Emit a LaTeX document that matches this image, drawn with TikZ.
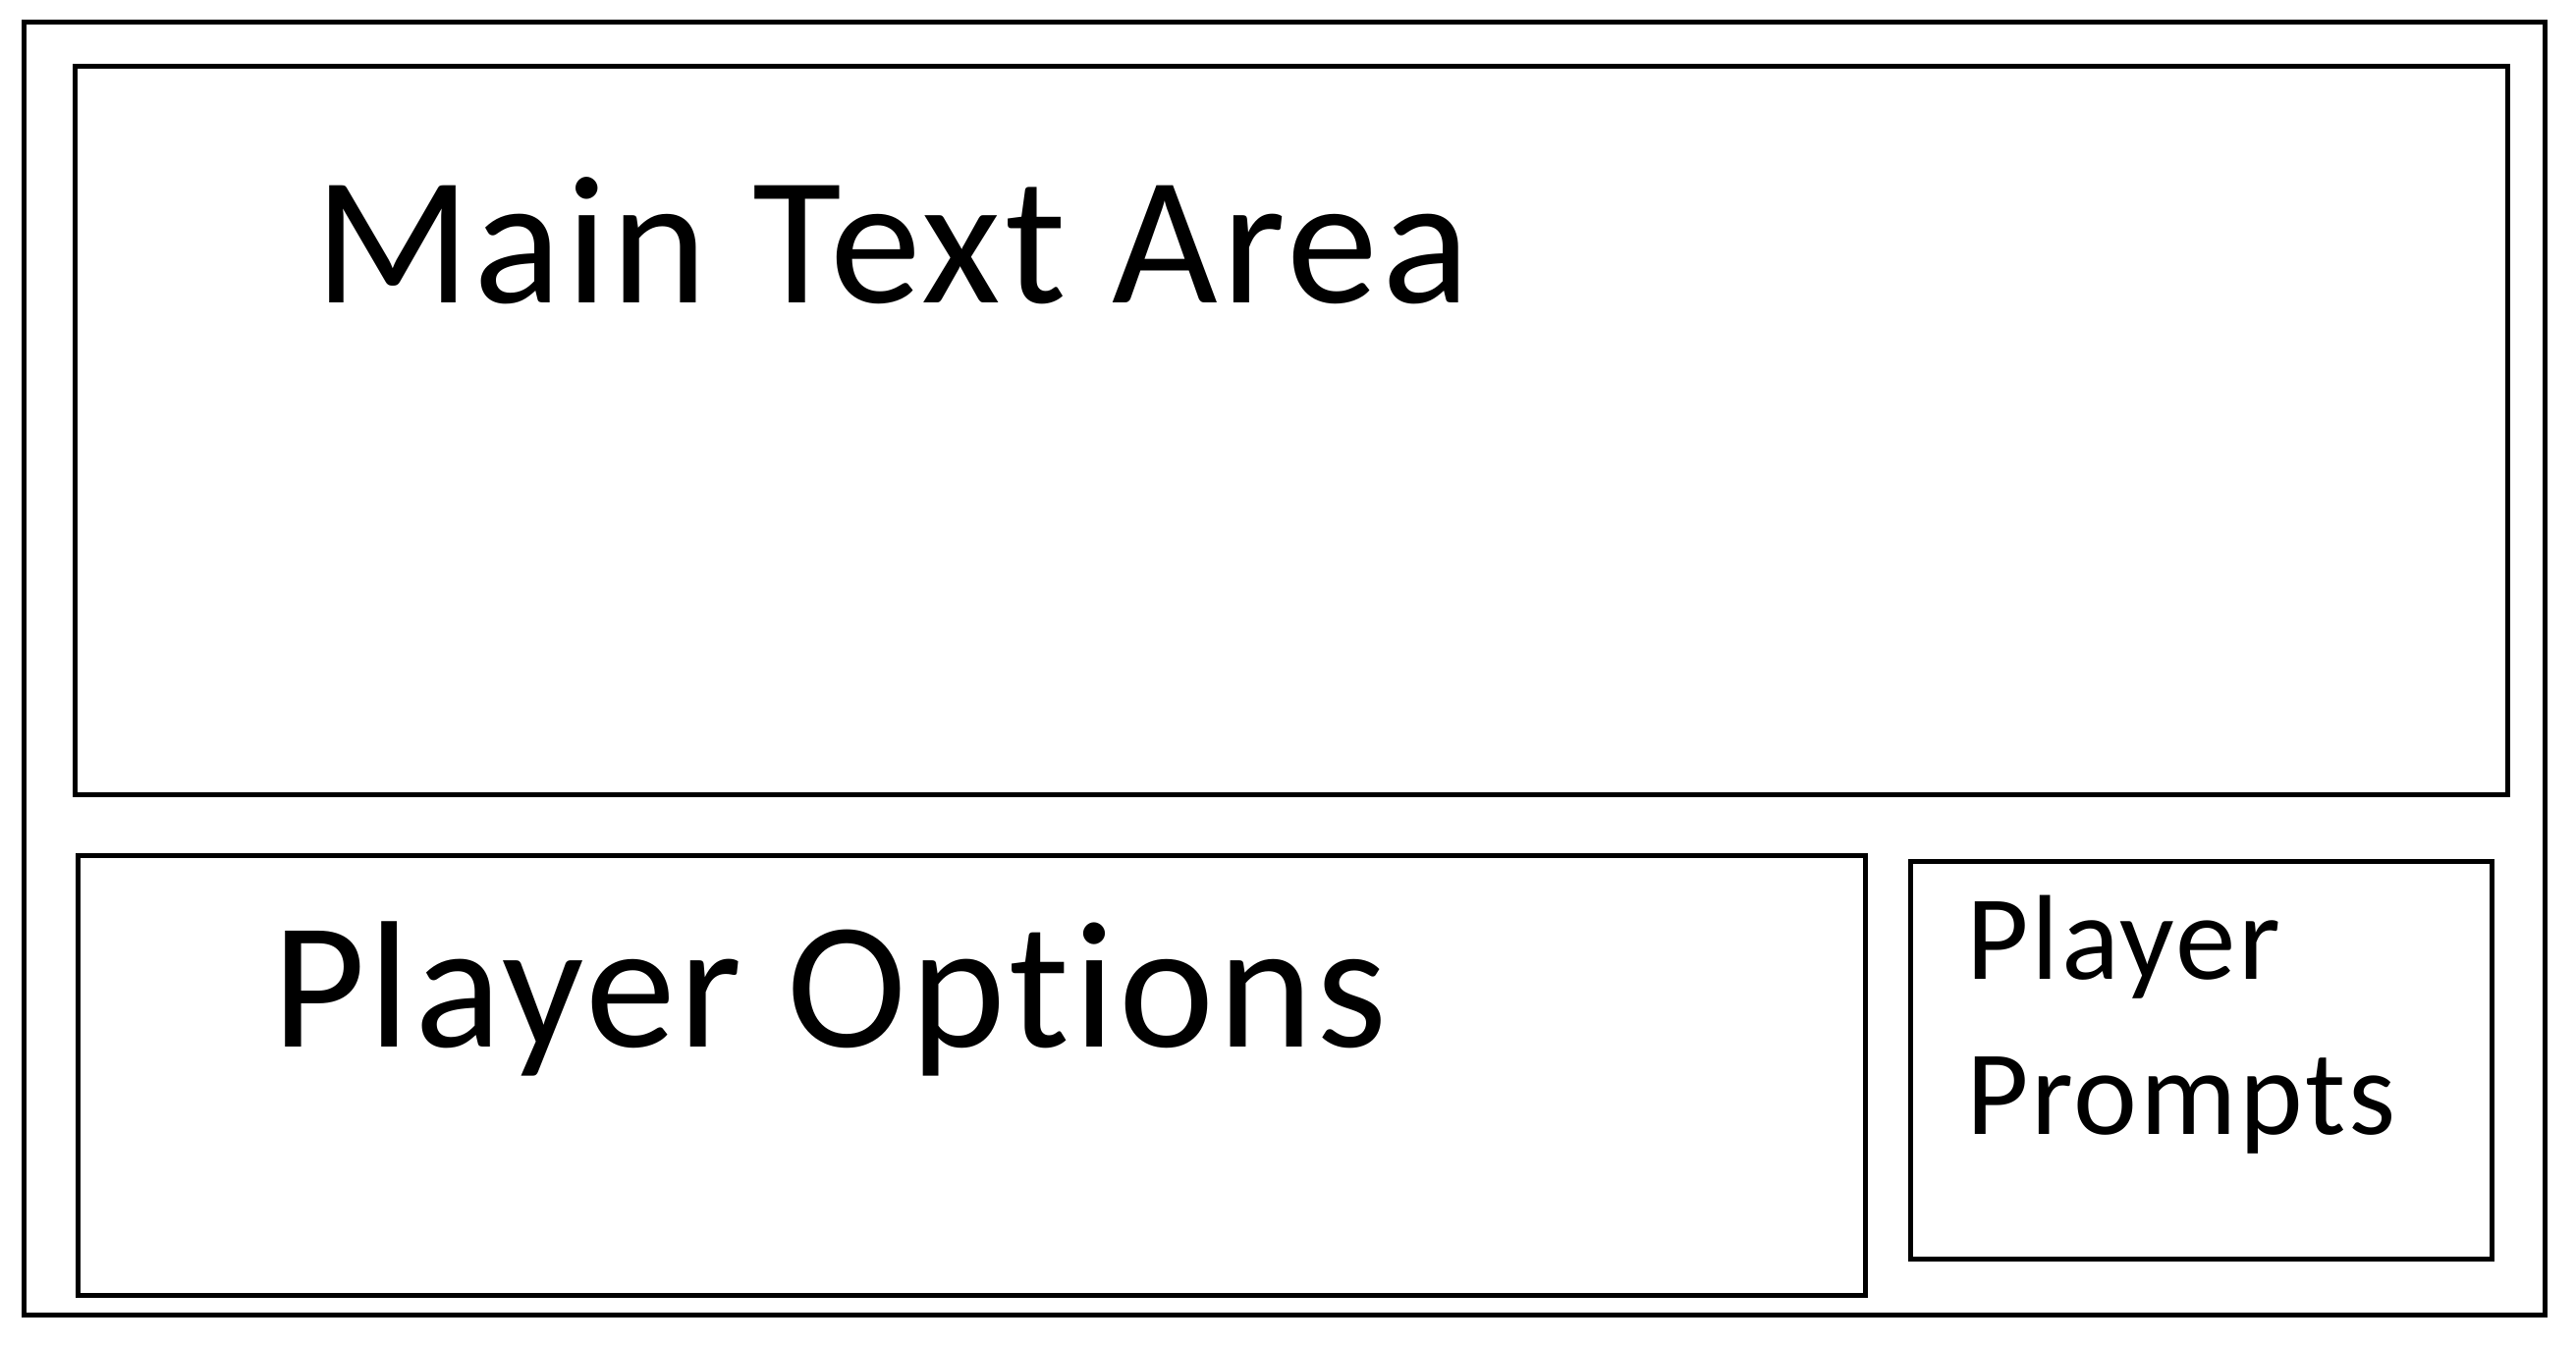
\documentclass[tikz,border=0pt]{standalone}
\usepackage{fontspec}
\setmainfont{Carlito}[Ligatures=NoCommon,LetterSpace=2.2]
\begin{document}
\begin{tikzpicture}[x=1pt,y=-1pt,
  panel/.style={draw=black,line width=5pt,anchor=north west,inner sep=0pt,outer sep=0pt},
  label/.style={inner sep=0pt,outer sep=0pt,anchor=base west,text=black}]
\useasboundingbox (0,0) rectangle (2623,1369);
\node[panel,minimum width=2567pt,minimum height=1317pt] (outer) at (24.5,22.5) {};
\node[panel,minimum width=2476.5pt,minimum height=741.5pt] (main) at (76.5,67.5) {};
\node[panel,minimum width=1819.5pt,minimum height=448pt] (options) at (79.5,871.5) {};
\node[panel,minimum width=592pt,minimum height=405pt] (prompts) at (1945.5,877.5) {};
\node[label,font=\fontsize{186}{220}\selectfont] (maintxt) at (320,308) {Main Text Area};
\node[label,font=\fontsize{184}{220}\selectfont] (opttxt) at (277,1066) {Player Options};
\node[label,font=\fontsize{123}{158}\selectfont,align=left] (prtxt) at (2002,1155) {Player\\Prompts};
\end{tikzpicture}
\end{document}
